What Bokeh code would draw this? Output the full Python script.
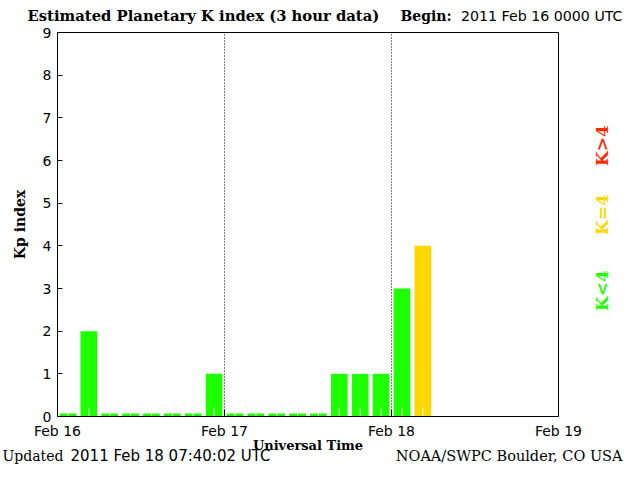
import math
from bokeh.plotting import figure
from bokeh.models import Range1d, Label, FixedTicker, ColumnDataSource
from bokeh.embed import file_html
from bokeh.resources import INLINE

# ---- data ----
kp_values = [0, 2, 0, 0, 0, 0, 0, 1,
             0, 0, 0, 0, 0, 1, 1, 1,
             3, 4]
interval_hours = 3
day_ticks = [0, 24, 48, 72]
day_labels = ["Feb 16", "Feb 17", "Feb 18", "Feb 19"]
kp_ticks = list(range(0, 10))
title_text = "Estimated Planetary K index (3 hour data)"
begin_text = "2011 Feb 16 0000 UTC"
updated_text = "2011 Feb 18 07:40:02 UTC"
credit_text = "NOAA/SWPC Boulder, CO USA"

GREEN = "#1EFF00"
YELLOW = "#FFD800"
RED = "#FF2A00"

# ---- layout (pixels) ----
W, H = 624, 464
FL, FR, FT, FB = 57, 558, 32, 416          # plot box edges
XMIN, XMAX = day_ticks[0], day_ticks[-1]
YMIN, YMAX = kp_ticks[0], kp_ticks[-1]
xu = (XMAX - XMIN) / (FR - FL)            # data units per pixel
yu = (YMAX - YMIN) / (FB - FT)
xs, xe = XMIN - FL * xu, XMAX + (W - FR) * xu
ys, ye = YMIN - (H - FB) * yu, YMAX + FT * yu

def px(fx):
    return xs + fx * xu

def py(fy):
    return ye - fy * yu

centers = [interval_hours * i + interval_hours / 2 for i in range(len(kp_values))]
shown = [max(v, 0.07) for v in kp_values]
colors = [GREEN if v < 4 else (YELLOW if v == 4 else RED) for v in kp_values]
src = ColumnDataSource(dict(x=centers, top=shown, color=colors,
                            y0=[0] * len(kp_values), y1=[0.19] * len(kp_values)))

p = figure(width=W, height=H, output_backend="svg", toolbar_location=None,
           x_range=Range1d(xs, xe), y_range=Range1d(ys, ye), min_border=0)
p.background_fill_color = "white"
p.border_fill_color = "white"
p.outline_line_color = None
p.xgrid.visible = False
p.ygrid.visible = False

p.vbar(x="x", top="top", bottom=0, width=2.4, color="color", line_color=None, source=src)
p.segment(x0="x", x1="x", y0="y0", y1="y1", line_color="white", line_width=1, source=src)

# dotted day separators inside the plot box
inner_days = day_ticks[1:-1]
p.segment(x0=inner_days, x1=inner_days, y0=[YMIN] * len(inner_days),
          y1=[YMAX] * len(inner_days), line_color="black", line_width=1, line_dash="1 2")

# plot box
p.quad(left=[XMIN], right=[XMAX], bottom=[YMIN], top=[YMAX],
       fill_color=None, line_color="black", line_width=1)

xa = p.xaxis[0]
xa.fixed_location = YMIN
xa.bounds = (XMIN, XMAX)
xa.ticker = FixedTicker(ticks=day_ticks)
xa.major_label_overrides = {t: l for t, l in zip(day_ticks, day_labels)}
xa.major_tick_in = 7
xa.major_tick_out = 0
xa.minor_tick_in = 0
xa.minor_tick_out = 0
xa.major_label_standoff = 6
xa.major_label_text_font = "DejaVu Sans"
xa.major_label_text_font_size = "14px"
xa.major_label_text_color = "black"
xa.axis_label = "Universal Time"
xa.axis_label_text_font = "DejaVu Serif"
xa.axis_label_text_font_style = "bold"
xa.axis_label_text_font_size = "13px"
xa.axis_label_text_color = "black"
xa.axis_label_standoff = -4
xa.axis_line_color = "black"

ya = p.yaxis[0]
ya.fixed_location = XMIN
ya.bounds = (YMIN, YMAX)
ya.ticker = FixedTicker(ticks=kp_ticks)
ya.major_tick_in = 5
ya.major_tick_out = 0
ya.minor_tick_in = 0
ya.minor_tick_out = 0
ya.major_label_standoff = 6
ya.major_label_text_font = "DejaVu Sans"
ya.major_label_text_font_size = "14px"
ya.major_label_text_color = "black"
ya.axis_label = "Kp index"
ya.axis_label_text_font = "DejaVu Serif"
ya.axis_label_text_font_style = "bold"
ya.axis_label_text_font_size = "14px"
ya.axis_label_text_color = "black"
ya.axis_label_standoff = 12
ya.axis_line_color = "black"

def add_text(fx, fy, text, font="DejaVu Serif", style="normal", size="14px",
             align="left", color="black", angle=0, baseline="middle"):
    p.add_layout(Label(x=px(fx), y=py(fy), text=text, text_font=font,
                       text_font_style=style, text_font_size=size,
                       text_align=align, text_baseline=baseline,
                       text_color=color, angle=angle))

add_text(27, 15, title_text, style="bold", size="14.8px")
add_text(400, 15, "Begin:", style="bold", size="14px")
add_text(622, 15, begin_text, font="DejaVu Sans", size="14.2px", align="right")
add_text(2, 455, "Updated", size="14px")
add_text(70, 455, updated_text, font="DejaVu Sans", size="15px")
add_text(622, 455, credit_text, size="14.5px", align="right")

add_text(601, 145, "K>4", style="bold", size="17px", align="center", color=RED, angle=math.pi / 2)
add_text(601, 214, "K=4", style="bold", size="17px", align="center", color=YELLOW, angle=math.pi / 2)
add_text(601, 290, "K<4", style="bold", size="17px", align="center", color=GREEN, angle=math.pi / 2)

open("out.html", "w").write(file_html(p, INLINE))
